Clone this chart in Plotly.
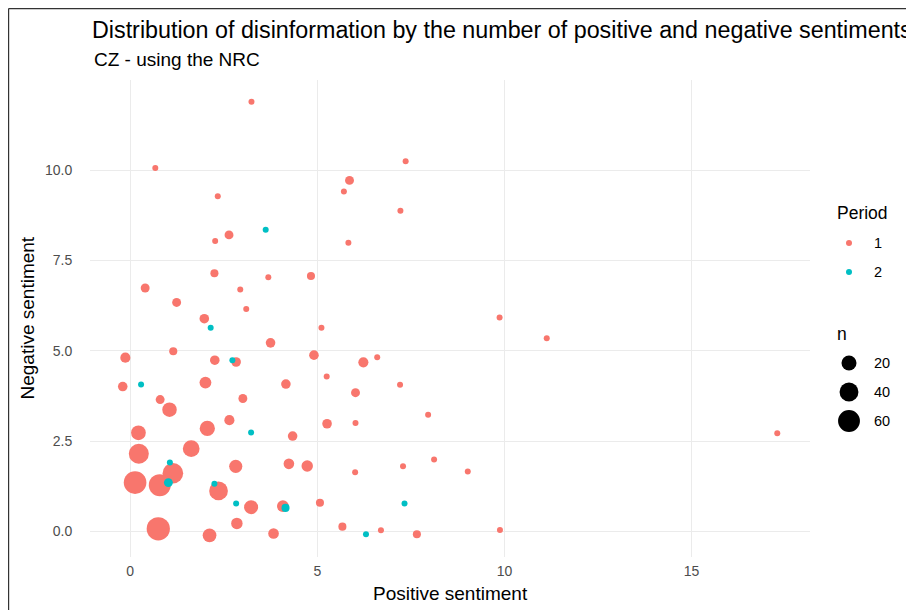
import plotly.graph_objects as go
import math

# ---- data ----
p1_pos = [3.24, 0.67, 5.86, 5.71, 2.34, 2.64, 2.27, 5.83, 2.25, 3.69, 4.83, 7.36, 7.22,
          0.40, 2.94, 1.24, 3.10, 1.98, 5.11, 3.75, -0.13, 1.15, 2.26, 2.83, 4.91, 5.25,
          6.02, -0.20, 2.01, 4.16, 0.80, 1.05, 3.01, 2.65, 9.87, 11.13, 6.23, 6.60, 7.21,
          7.96, 2.06, 0.22, 4.34, 5.26, 6.02, 0.23, 1.63, 1.14, 2.82, 4.24, 4.73, 6.01,
          0.13, 0.79, 2.36, 3.23, 4.08, 5.07, 0.75, 2.85, 2.12, 3.83, 5.67, 7.29, 8.12,
          9.02, 6.70, 7.66, 9.88, 17.29]
p1_neg = [11.90, 10.06, 9.72, 9.41, 9.28, 8.21, 8.04, 7.99, 7.15, 7.04, 7.07, 10.25, 8.88,
          6.74, 6.70, 6.34, 6.16, 5.89, 5.64, 5.22, 4.81, 4.99, 4.74, 4.69, 4.88, 4.29,
          3.84, 4.01, 4.12, 4.08, 3.65, 3.37, 3.68, 3.08, 5.92, 5.35, 4.68, 4.82, 4.06,
          3.23, 2.85, 2.73, 2.64, 2.98, 3.00, 2.15, 2.29, 1.61, 1.80, 1.87, 1.81, 1.64,
          1.35, 1.28, 1.12, 0.67, 0.70, 0.79, 0.07, 0.22, -0.11, -0.06, 0.13, 1.80, 1.99,
          1.66, 0.03, -0.08, 0.04, 2.72]
p1_n = [1, 1, 3, 1, 1, 3, 1, 1, 2, 1, 2, 1, 1,
        3, 1, 3, 1, 4, 1, 4, 5, 2, 4, 4, 4, 1,
        3, 4, 9, 4, 3, 18, 3, 5, 1, 1, 5, 1, 1,
        1, 21, 19, 4, 4, 1, 47, 28, 51, 13, 6, 8, 1,
        66, 61, 39, 16, 9, 2, 71, 8, 15, 6, 2, 1, 1,
        1, 1, 2, 1, 1]

p2_pos = [3.62, 2.15, 2.73, 0.29, 3.23, 1.06, 1.02, 2.25, 2.83, 4.15, 7.33, 6.30]
p2_neg = [8.35, 5.64, 4.74, 4.07, 2.74, 1.91, 1.35, 1.32, 0.77, 0.65, 0.77, -0.08]
p2_n = [1, 1, 1, 1, 1, 1, 3, 1, 1, 2, 1, 1]

periods = ["1", "2"]
period_colors = ["#F8766D", "#00BFC4"]
size_breaks = [20, 40, 60]
x_ticks = [0, 5, 10, 15]
y_ticks = [0, 2.5, 5, 7.5, 10]
y_tick_text = ["0.0", "2.5", "5.0", "7.5", "10.0"]

TITLE = "Distribution of disinformation by the number of positive and negative sentiments"
SUBTITLE = "CZ - using the NRC"
X_TITLE = "Positive sentiment"
Y_TITLE = "Negative sentiment"

FONT = "Liberation Sans, Arial, sans-serif"


def diam(n):
    # ggplot-like area scale: diameter grows with sqrt of count
    return 6 + 2.065 * math.sqrt(max(n - 1, 0))


# the page body has an 8px margin: work in window pixels and convert
OFF = 8
W, H = 914 - OFF, 610 - OFF
PL, PR, PT, PB = 90, 810, 80, 557          # plot area in window pixels
ML, MT = PL - OFF, PT - OFF
MR, MB = W - (PR - OFF), H - (PB - OFF)
PW, PH = PR - PL, PB - PT


def wx(xw):
    return (xw - PL) / PW


def wy(yw):
    return (PB - yw) / PH


all_x = p1_pos + p2_pos
all_y = p1_neg + p2_neg
xs = max(all_x) - min(all_x)
ys = max(all_y) - min(all_y)
xr = [min(all_x) - 0.05 * xs, max(all_x) + 0.05 * xs]
yr = [min(all_y) - 0.05 * ys, max(all_y) + 0.05 * ys]

fig = go.Figure()
for name, col, xv, yv, nv in [(periods[0], period_colors[0], p1_pos, p1_neg, p1_n),
                              (periods[1], period_colors[1], p2_pos, p2_neg, p2_n)]:
    fig.add_trace(go.Scatter(
        x=xv, y=yv, mode="markers", name=name, showlegend=False,
        marker=dict(color=col, size=[diam(n) for n in nv], line=dict(width=0), opacity=1),
        customdata=nv, hovertemplate="pos=%{x}<br>neg=%{y}<br>n=%{customdata}<extra></extra>",
    ))

shapes = []
annotations = []
# border of the original screenshot (left and top)
shapes.append(dict(type="line", xref="paper", yref="paper", x0=wx(OFF + 0.6), x1=wx(OFF + 0.6),
                   y0=wy(620), y1=wy(OFF + 0.6), line=dict(color="#333333", width=1.2)))
shapes.append(dict(type="line", xref="paper", yref="paper", x0=wx(OFF + 0.6), x1=wx(920),
                   y0=wy(OFF + 0.6), y1=wy(OFF + 0.6), line=dict(color="#333333", width=1.2)))


def txt(s, x, y, size, xanchor="left", color="#000000", angle=0):
    annotations.append(dict(text=s, x=wx(x), y=wy(y), xref="paper", yref="paper",
                            xanchor=xanchor, yanchor="middle", showarrow=False, textangle=angle,
                            font=dict(size=size, color=color, family=FONT)))


# legend: Period
txt("Period", 835, 213, 17.5)
for i, (lab, col) in enumerate(zip(periods, period_colors)):
    yc = 243 + 29 * i
    shapes.append(dict(type="circle", xref="paper", yref="paper", xsizemode="pixel", ysizemode="pixel",
                       xanchor=wx(849), yanchor=wy(yc), x0=-3, x1=3, y0=-3, y1=3,
                       fillcolor=col, line=dict(width=0)))
    txt(lab, 872, yc, 14.5)

# legend: n
txt("n", 835, 334, 17.5)
for i, b in enumerate(size_breaks):
    yc = 363 + 29 * i
    r = diam(b) / 2
    shapes.append(dict(type="circle", xref="paper", yref="paper", xsizemode="pixel", ysizemode="pixel",
                       xanchor=wx(849), yanchor=wy(yc), x0=-r, x1=r, y0=-r, y1=r,
                       fillcolor="#000000", line=dict(width=0)))
    txt(str(b), 872, yc, 14.5)

# subtitle and axis titles
txt(SUBTITLE, 92, 60, 19)
txt(X_TITLE, (PL + PR) / 2, 593, 19, xanchor="center")
txt(Y_TITLE, 27, (PT + PB) / 2, 19, xanchor="center", angle=-90)

fig.update_layout(
    width=W, height=H,
    margin=dict(l=ML, r=MR, t=MT, b=MB),
    paper_bgcolor="white", plot_bgcolor="white",
    font=dict(family=FONT, color="#000000"),
    title=dict(text=TITLE, x=(92 - OFF) / W, xanchor="left", xref="container",
               y=1 - (30 - OFF) / H, yanchor="middle", yref="container",
               font=dict(size=23.3, color="#000000", family=FONT)),
    showlegend=False,
    shapes=shapes,
    annotations=annotations,
    xaxis=dict(range=xr, tickvals=x_ticks, ticktext=[str(t) for t in x_ticks],
               showgrid=True, gridcolor="#EBEBEB", gridwidth=1.1, zeroline=False,
               showline=False, ticks="outside", ticklen=1, tickcolor="rgba(0,0,0,0)",
               tickfont=dict(size=14, color="#4D4D4D", family=FONT)),
    yaxis=dict(range=yr, tickvals=y_ticks, ticktext=y_tick_text,
               showgrid=True, gridcolor="#EBEBEB", gridwidth=1.1, zeroline=False,
               showline=False, ticks="outside", ticklen=14, tickcolor="rgba(0,0,0,0)",
               tickfont=dict(size=14, color="#4D4D4D", family=FONT)),
)

fig.write_html("out.html")
